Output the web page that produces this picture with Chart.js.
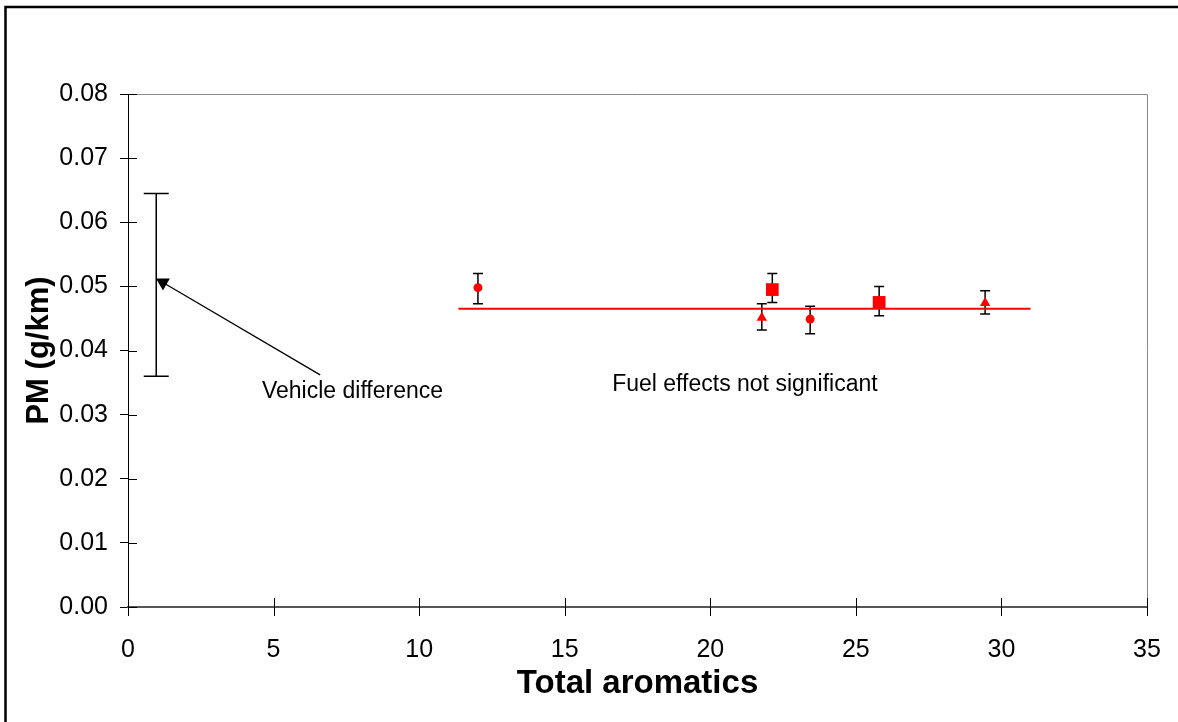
<!DOCTYPE html>
<html>
<head>
<meta charset="utf-8">
<title>PM vs total aromatics</title>
<script src="https://cdn.jsdelivr.net/npm/chart.js@4/dist/chart.umd.min.js"></script>
<style>
  body { margin: 0; background: #fff; }
  canvas { display: block; }
</style>
</head>
<body>
<canvas id="pmChart" width="1178" height="722"></canvas>
<script>
// Fuel results: total aromatics vs PM with error bars
const aromatics = [12.02, 21.77, 22.13, 23.43, 25.80, 29.44];
const pm        = [0.0498, 0.0451, 0.0495, 0.0449, 0.0475, 0.0474];
const pmLow     = [0.0473, 0.0432, 0.0475, 0.0426, 0.0454, 0.0457];
const pmHigh    = [0.0520, 0.0473, 0.0520, 0.0469, 0.0500, 0.0493];
const markers   = ['circle', 'triangle', 'rect', 'circle', 'rect', 'triangle'];

// average PM line across the fuels
const meanLineX = [11.35, 31.0];
const meanPM = 0.0465;

// vehicle-to-vehicle spread
const vehicleX = [0.97];
const vehicleLow = [0.0360];
const vehicleHigh = [0.0645];
const vehicleMid = [0.0505];

// arrow + notes (data units)
const arrowHead = { x: 1.2, y: 0.0506 };
const arrowTail = { x: 6.6, y: 0.0362 };
const notes = [
  { text: 'Vehicle difference', x: 4.6, y: 0.0326 },
  { text: 'Fuel effects not significant', x: 16.63, y: 0.0337 }
];

const xTicks = [0, 5, 10, 15, 20, 25, 30, 35];
const yTicks = [0, 0.01, 0.02, 0.03, 0.04, 0.05, 0.06, 0.07, 0.08];

const FONT = "'Liberation Sans', Arial, sans-serif";

// error bars, tick marks, plot frame and notes
const extras = {
  id: 'extras',
  beforeDatasetsDraw(chart) {
    const { ctx, chartArea: a, scales: { x, y } } = chart;
    ctx.save();
    // grey top / right frame of the plot
    ctx.strokeStyle = '#8a8a8a';
    ctx.lineWidth = 1;
    ctx.beginPath();
    ctx.moveTo(a.left, a.top + 0.5);
    ctx.lineTo(a.right + 0.5, a.top + 0.5);
    ctx.lineTo(a.right + 0.5, a.bottom);
    ctx.stroke();

    // tick marks crossing the axes
    ctx.strokeStyle = '#000';
    ctx.beginPath();
    yTicks.forEach(v => {
      const py = Math.round(y.getPixelForValue(v)) + 0.5;
      ctx.moveTo(a.left, py);
      ctx.lineTo(a.left + 9, py);
    });
    xTicks.forEach(v => {
      const px = Math.round(x.getPixelForValue(v)) + 0.5;
      ctx.moveTo(px, a.bottom + 9);
      ctx.lineTo(px, a.bottom - 9);
    });
    ctx.stroke();

    // error bars
    ctx.lineWidth = 1.5;
    chart.data.datasets.forEach(ds => {
      if (!ds.errLow) return;
      ds.data.forEach((p, i) => {
        const px = x.getPixelForValue(p.x);
        const top = y.getPixelForValue(ds.errHigh[i]);
        const bot = y.getPixelForValue(ds.errLow[i]);
        const c = ds.capHalf;
        ctx.beginPath();
        ctx.moveTo(px, top); ctx.lineTo(px, bot);
        ctx.moveTo(px - c, top); ctx.lineTo(px + c, top);
        ctx.moveTo(px - c, bot); ctx.lineTo(px + c, bot);
        ctx.stroke();
      });
    });

    // arrow line
    ctx.lineWidth = 1.3;
    ctx.beginPath();
    ctx.moveTo(x.getPixelForValue(arrowHead.x), y.getPixelForValue(arrowHead.y));
    ctx.lineTo(x.getPixelForValue(arrowTail.x), y.getPixelForValue(arrowTail.y));
    ctx.stroke();

    // notes
    ctx.fillStyle = '#000';
    ctx.font = '23px ' + FONT;
    ctx.textAlign = 'left';
    ctx.textBaseline = 'alphabetic';
    notes.forEach(n => {
      ctx.fillText(n.text, x.getPixelForValue(n.x), y.getPixelForValue(n.y));
    });
    ctx.restore();
  },
  afterDraw(chart) {
    // outer black frame
    const ctx = chart.ctx;
    ctx.save();
    ctx.strokeStyle = '#000';
    ctx.lineWidth = 2.5;
    ctx.strokeRect(5.5, 7, 1200, 740);
    ctx.restore();
  }
};

new Chart(document.getElementById('pmChart'), {
  type: 'scatter',
  data: {
    datasets: [
      {
        type: 'line',
        data: meanLineX.map(v => ({ x: v, y: meanPM })),
        borderColor: '#ff0000',
        borderWidth: 2,
        pointRadius: 0
      },
      {
        data: aromatics.map((v, i) => ({ x: v, y: pm[i] })),
        errLow: pmLow,
        errHigh: pmHigh,
        capHalf: 5,
        backgroundColor: '#ff0000',
        borderColor: '#ff0000',
        borderWidth: 0,
        pointStyle: markers,
        pointRadius: markers.map(m => m === 'rect' ? 9 : (m === 'triangle' ? 6 : 4.5))
      },
      {
        data: vehicleX.map((v, i) => ({ x: v, y: vehicleMid[i] })),
        errLow: vehicleLow,
        errHigh: vehicleHigh,
        capHalf: 12.5,
        pointRadius: 0
      },
      {
        data: [arrowHead],
        backgroundColor: '#000',
        borderColor: '#000',
        borderWidth: 0,
        pointStyle: 'triangle',
        rotation: 180,
        pointRadius: 8
      }
    ]
  },
  options: {
    responsive: false,
    animation: false,
    layout: { padding: { left: 0, top: 94, right: 31, bottom: 0 } },
    plugins: { legend: { display: false }, tooltip: { enabled: false } },
    scales: {
      x: {
        type: 'linear',
        min: 0, max: 35,
        afterBuildTicks: s => { s.ticks = xTicks.map(v => ({ value: v })); },
        afterFit: s => { s.height = 115; },
        // tick marks are drawn by the plugin; keep the length for label spacing
        grid: { drawOnChartArea: false, tickLength: 12, tickColor: 'rgba(0,0,0,0)' },
        border: { color: '#555', width: 2 },
        ticks: {
          color: '#000', padding: 16,
          font: { family: FONT, size: 25 },
          callback: v => String(v)
        },
        title: {
          display: true, text: 'Total aromatics', color: '#000',
          font: { family: FONT, size: 33, weight: 'bold' },
          padding: { top: 0, bottom: 18 }
        }
      },
      y: {
        min: 0, max: 0.08,
        afterBuildTicks: s => { s.ticks = yTicks.map(v => ({ value: v })); },
        afterFit: s => { s.width = 128; },
        grid: { drawOnChartArea: false, tickLength: 8, color: '#000' },
        border: { color: '#000', width: 1 },
        ticks: {
          color: '#000', padding: 12,
          font: { family: FONT, size: 25 },
          callback: v => v.toFixed(2)
        },
        title: {
          display: true, text: 'PM (g/km)', color: '#000',
          font: { family: FONT, size: 31, weight: 'bold' },
          padding: { top: 21, bottom: 0 }
        }
      }
    }
  },
  plugins: [extras]
});
</script>
</body>
</html>
